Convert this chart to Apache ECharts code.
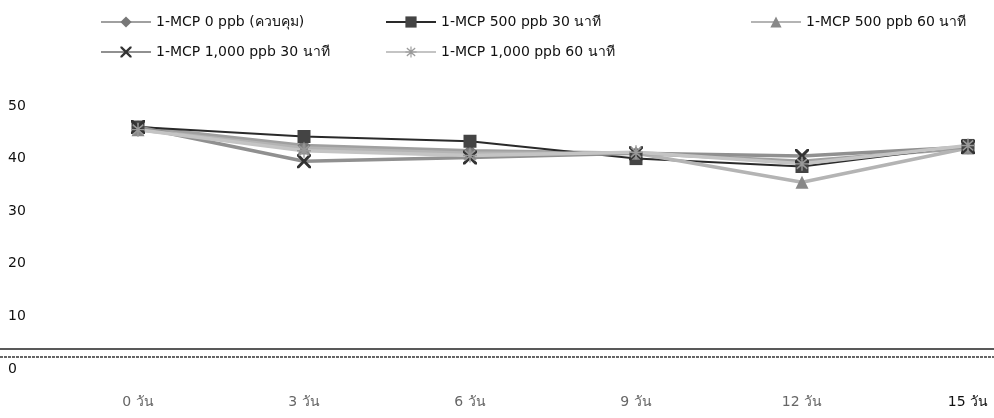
<!DOCTYPE html>
<html>
<head>
<meta charset="utf-8">
<script src="https://cdn.jsdelivr.net/npm/echarts@6/dist/echarts.min.js"></script>
<style>
  html, body { margin: 0; padding: 0; background: #fff; }
  #chart { width: 994px; height: 418px; }
</style>
</head>
<body>
<div id="chart"></div>
<script>
// Storage days and readings for each 1-MCP treatment
const days = [0, 3, 6, 9, 12, 15];
const dayUnit = 'วัน';
const yTicks = [0, 10, 20, 30, 40, 50];

const control      = [46.0, 42.5, 41.5, 41.0, 39.5, 42.0];
const mcp500min30  = [46.0, 44.2, 43.3, 40.0, 38.5, 42.5];
const mcp500min60  = [45.5, 42.0, 41.0, 41.0, 35.5, 42.0];
const mcp1000min30 = [46.0, 39.5, 40.2, 41.0, 40.5, 42.2];
const mcp1000min60 = [45.5, 41.5, 40.6, 41.2, 39.0, 42.5];

const names = [
  '1-MCP 0 ppb (ควบคุม)',
  '1-MCP 500 ppb 30 นาที',
  '1-MCP 500 ppb 60 นาที',
  '1-MCP 1,000 ppb 30 นาที',
  '1-MCP 1,000 ppb 60 นาที'
];

const FONT = 'Tahoma, "DejaVu Sans", "Noto Sans", sans-serif';

const xShape = 'path://M0,0L3,0L10,7L17,0L20,0L20,3L13,10L20,17L20,20L17,20L10,13L3,20L0,20L0,17L7,10L0,3Z';
const starShape = 'path://M9,0L11,0L11,7L17,2L18,4L12,9L20,9L20,11L12,11L18,16L17,18L11,13L11,20L9,20L9,13L3,18L2,16L8,11L0,11L0,9L8,9L2,4L3,2L9,7Z';

function pairs(vals) { return days.map((d, i) => [d, vals[i]]); }

function makeSeries(name, vals, color, width, symbol, size, symColor) {
  return {
    name: name,
    type: 'line',
    data: pairs(vals),
    symbol: symbol,
    symbolSize: size,
    showSymbol: true,
    lineStyle: { color: color, width: width },
    itemStyle: { color: symColor || color, borderColor: symColor || color, borderWidth: 0 },
    z: 3
  };
}

const series = [
  makeSeries(names[0], control,      '#a0a0a0', 3.5, 'diamond', 13, '#777'),
  makeSeries(names[1], mcp500min30,  '#2a2a2a', 2, 'rect', 13, '#444'),
  makeSeries(names[2], mcp500min60,  '#b4b4b4', 3.5, 'triangle', 13, '#888'),
  makeSeries(names[3], mcp1000min30, '#909090', 3.5, xShape, 14, '#333'),
  makeSeries(names[4], mcp1000min60, '#c4c4c4', 3.5, starShape, 14, '#999')
];

// double baseline along the bottom of the plot
series[0].markLine = {
  silent: true,
  symbol: 'none',
  label: { show: false },
  data: [
    { yAxis: 3.8, lineStyle: { color: '#222', width: 1.5, type: 'solid' } },
    { yAxis: 2.3, lineStyle: { color: '#333', width: 1.5, type: [3, 1] } }
  ]
};

function legendAt(name, left, top) {
  return {
    data: [name],
    left: left,
    top: top,
    itemWidth: 50,
    itemHeight: 14,
    itemGap: 4,
    textStyle: { fontFamily: FONT, fontSize: 14, color: '#111' }
  };
}

const chart = echarts.init(document.getElementById('chart'), null, { renderer: 'canvas' });
chart.setOption({
  animation: false,
  backgroundColor: '#fff',
  legend: [
    legendAt(names[0], 95, 10),
    legendAt(names[1], 380, 10),
    legendAt(names[2], 745, 10),
    legendAt(names[3], 95, 40),
    legendAt(names[4], 380, 40)
  ],
  grid: { left: 0, right: 0, top: 106, bottom: 49, containLabel: false },
  xAxis: {
    type: 'value',
    min: -2.494,
    max: 15.47,
    axisLine: { show: false },
    axisTick: { show: false },
    splitLine: { show: false },
    axisLabel: {
      customValues: days,
      margin: 26,
      fontFamily: FONT,
      fontSize: 14,
      color: '#666',
      formatter: v => v === days[days.length - 1]
        ? '{last|' + v + ' ' + dayUnit + '}'
        : v + ' ' + dayUnit,
      rich: { last: { fontFamily: FONT, fontSize: 14, color: '#111' } }
    }
  },
  yAxis: {
    type: 'value',
    min: yTicks[0],
    max: yTicks[yTicks.length - 1],
    interval: 10,
    axisLine: { show: false },
    axisTick: { show: false },
    splitLine: { show: false },
    axisLabel: {
      inside: true,
      margin: 8,
      fontFamily: FONT,
      fontSize: 14,
      color: '#111'
    }
  },
  series: series
});
</script>
</body>
</html>
